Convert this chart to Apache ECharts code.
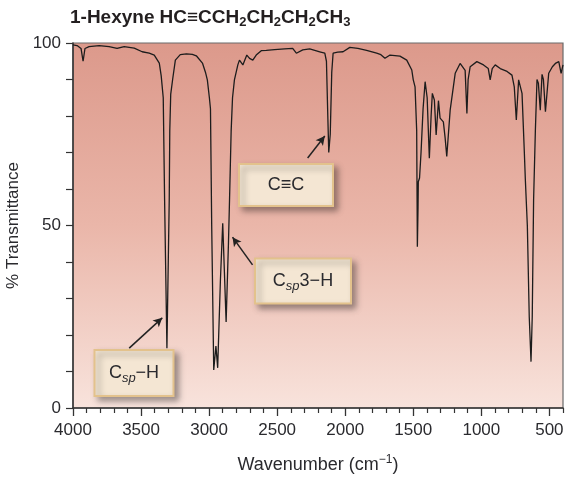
<!DOCTYPE html>
<html>
<head>
<meta charset="utf-8">
<script src="https://cdn.jsdelivr.net/npm/echarts@6/dist/echarts.min.js"></script>
<style>
html,body{margin:0;padding:0;background:#fff;}
#c{width:565px;height:477px;}
</style>
</head>
<body>
<div id="c"></div>
<script>
// Wavenumber (cm^-1)
const wavenumbers = [4000,3970,3956,3941,3926,3912,3882,3808,3735,3676,3624,3550,3492,3440,3403,3366,3352,3337,3327,3310,3293,3289,3282,3268,3248,3212,3167,3123,3094,3049,3027,3013,2998,2990,2981,2966,2950,2937,2917,2900,2875,2858,2850,2838,2828,2814,2789,2777,2752,2723,2703,2679,2654,2617,2580,2519,2445,2386,2359,2312,2261,2187,2150,2138,2128,2121,2110,2099,2089,2055,2016,1966,1907,1843,1769,1738,1708,1671,1598,1548,1511,1500,1487,1475,1470,1465,1463,1454,1443,1428,1413,1398,1382,1369,1360,1345,1332,1315,1303,1279,1266,1254,1229,1192,1156,1119,1106,1097,1082,1033,984,949,935,920,898,861,811,775,758,743,726,701,684,677,662,648,635,626,616,603,591,581,567,554,544,529,505,478,456,431,414,400];
// % Transmittance
const transmittance = [99.5,99.3,99,98.5,95,98.5,99,99.3,99,98.5,99,98.6,97.6,97.2,96.7,94.5,91,85,57,16.4,57,76,86,90,95.3,96.8,97,96.9,96.5,94.5,92,89.9,85,82,50,10.4,17,11,35,50.6,23.6,45,57,76,85,89.9,94,95.3,94,96.7,95.8,95.3,96.7,97.9,98,98.2,98.4,98.5,97.2,98.1,98.4,97.6,97.2,95,80,70,75,92,97.2,97.5,97.6,98.8,98.5,98,97.2,96.8,95.8,96.7,96.4,95.3,92.6,89.9,88,76,44.2,55,62,63,70,82,89.4,85,68.4,80,86.2,84.4,74.8,84.2,79.4,78.4,74,68.9,81.6,91.7,94.4,92.5,80.7,90,93.5,94.9,94,93,89.9,93,94,93,92.2,91.2,88,78.9,89.9,86.2,70,62.9,50,25,12.7,25,57,76,90,89,81.6,91.4,90,81.2,91.7,93.5,94.4,94.9,91.7,94];

const xMajorTicks = [500,1000,1500,2000,2500,3000,3500,4000];
const xMinorTicks = [400,600,700,800,900,1100,1200,1300,1400,1600,1700,1800,1900,2100,2200,2300,2400,2600,2700,2800,2900,3100,3200,3300,3400,3600,3700,3800,3900];
const yLabels = [0,50,100];

// annotation arrows: [fromW, fromT, toW, toT]
const arrowCC = [2276,68.5,2150,74.5];
const arrowCsp3H = [2681,39.2,2828,46.8];
const arrowCspH = [3587,16.4,3344,24.7];

const FONT = "'Liberation Sans', Arial, Helvetica, sans-serif";
const TXT = '#2a2a2e';

const chart = echarts.init(document.getElementById('c'), null, {renderer:'canvas'});

const seriesData = wavenumbers.map((w,i)=>[w, transmittance[i]]);

function arrow(a){
  return [{coord:[a[0],a[1]], symbol:'none'},{coord:[a[2],a[3]], symbol:'arrow'}];
}

function box(cx, cy, w, h, rich, text){
  return {
    type:'group',
    left: cx - w/2, top: cy - h/2,
    children:[
      {type:'rect', shape:{x:0,y:0,width:w,height:h},
       style:{fill:'#f4e6d3', stroke:'#e3c28c', lineWidth:2,
              shadowBlur:6, shadowColor:'rgba(0,0,0,0.35)', shadowOffsetX:4, shadowOffsetY:4}},
      {type:'text', x:w/2, y:h/2,
       style:{text:text, rich:rich, align:'center', verticalAlign:'middle',
              fontFamily:FONT, fontSize:18, fill:TXT}}
    ]
  };
}

const boxRich = {
  n:{fontSize:18, fontFamily:FONT, color:TXT, lineHeight:24, verticalAlign:'middle'},
  s:{fontSize:13, fontFamily:FONT, color:TXT, fontStyle:'italic', lineHeight:14, verticalAlign:'bottom'}
};

chart.setOption({
  animation:false,
  backgroundColor:'#ffffff',
  title:{
    left:70, top:6, padding:0,
    text:'{b|1-Hexyne} {n|HC≡CCH}{s|2}{n|CH}{s|2}{n|CH}{s|2}{n|CH}{s|3}',
    textStyle:{
      rich:{
        b:{fontSize:19, fontWeight:'bold', fontFamily:FONT, color:'#231f20', lineHeight:23, verticalAlign:'middle'},
        n:{fontSize:19, fontFamily:FONT, color:'#231f20', lineHeight:23, verticalAlign:'middle'},
        s:{fontSize:13, fontFamily:FONT, color:'#231f20', lineHeight:13, verticalAlign:'bottom'}
      }
    }
  },
  grid:{
    left:73, right:2, top:43, bottom:69,
    containLabel:false, outerBoundsMode:'none',
    show:true,
    borderColor:'#6a6a6a', borderWidth:1.2,
    backgroundColor:{type:'linear', x:0, y:0, x2:0, y2:1,
      colorStops:[{offset:0,color:'#dc998b'},{offset:0.5,color:'#eab6a9'},{offset:1,color:'#f8e3dc'}]}
  },
  xAxis:[{
    type:'value', inverse:true, min:400, max:4000, position:'bottom',
    axisLine:{show:true, onZero:false, lineStyle:{color:'#333', width:1.5}},
    axisTick:{show:true, customValues:xMajorTicks, length:8, inside:false, lineStyle:{color:'#333', width:1.3}},
    axisLabel:{show:true, customValues:xMajorTicks, margin:14, fontSize:17, fontFamily:FONT, color:TXT,
      formatter:v=>String(v)},
    splitLine:{show:false},
    name:'{n|Wavenumber (cm}{u|−1}{n|)}',
    nameLocation:'middle', nameGap:46,
    nameTextStyle:{rich:{
      n:{fontSize:18, fontFamily:FONT, color:TXT, lineHeight:22, verticalAlign:'middle'},
      u:{fontSize:12, fontFamily:FONT, color:TXT, lineHeight:12, verticalAlign:'top'}
    }}
  },{
    type:'value', inverse:true, min:400, max:4000, position:'bottom', offset:0,
    axisLine:{show:false, onZero:false},
    axisTick:{show:true, customValues:xMinorTicks, length:5, lineStyle:{color:'#333', width:1.2}},
    axisLabel:{show:false},
    splitLine:{show:false}
  }],
  yAxis:{
    type:'value', min:0, max:100, interval:10,
    axisLine:{show:true, lineStyle:{color:'#333', width:1.5}},
    axisTick:{show:true, length:7, lineStyle:{color:'#333', width:1.2}},
    axisLabel:{margin:12, fontSize:17, fontFamily:FONT, color:TXT,
      formatter:v=> yLabels.indexOf(v) >= 0 ? String(v) : ''},
    splitLine:{show:false},
    name:'% Transmittance', nameLocation:'middle', nameRotate:90, nameGap:47,
    nameTextStyle:{fontSize:17, fontFamily:FONT, color:TXT}
  },
  series:[{
    type:'line', data:seriesData, xAxisIndex:0, yAxisIndex:0,
    showSymbol:false, symbol:'none', smooth:false,
    lineStyle:{color:'#1c1c1c', width:1.3},
    markLine:{
      silent:true, symbol:['none','arrow'], symbolSize:[7,9],
      label:{show:false},
      lineStyle:{color:'#222', width:1.5, type:'solid'},
      data:[arrow(arrowCC), arrow(arrowCsp3H), arrow(arrowCspH)]
    }
  }],
  graphic:[
    box(285, 184, 94, 42, boxRich, '{n|C≡C}'),
    box(302, 280, 96, 45, boxRich, '{n|C}{s|sp}{n|3−H}'),
    box(133, 372, 79, 46, boxRich, '{n|C}{s|sp}{n|−H}')
  ]
});
</script>
</body>
</html>
